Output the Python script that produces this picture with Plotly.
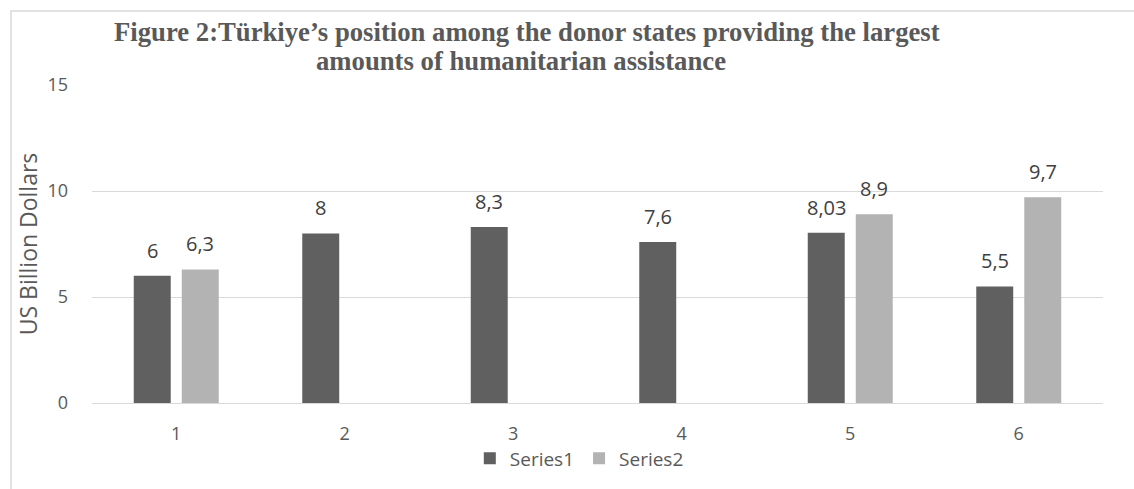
import plotly.graph_objects as go

categories = ["1", "2", "3", "4", "5", "6"]
series1 = [6, 8, 8.3, 7.6, 8.03, 5.5]
series2 = [6.3, None, None, None, 8.9, 9.7]
series_names = ["Series1", "Series2"]
title_lines = ["Figure 2:Türkiye’s position among the donor states providing the largest",
               "amounts of humanitarian assistance"]
y_title = "US Billion Dollars"
y_ticks = [0, 5, 10, 15]


def lab(v):
    return ("%g" % v).replace(".", ",")


font_sans = "Open Sans, Noto Sans, sans-serif"
colors = ["#606060", "#b3b3b3"]
fig = go.Figure()
for name, vals, col in [(series_names[0], series1, colors[0]), (series_names[1], series2, colors[1])]:
    fig.add_trace(go.Bar(
        x=categories, y=vals, name=name, marker=dict(color=col, line=dict(width=0)),
    ))

# data labels placed above each bar (x given as category index)
annotations = []
for offs, vals in [(-24, series1), (24, series2)]:
    for i, v in enumerate(vals):
        if v is None:
            continue
        annotations.append(dict(x=i, y=v, xref="x", yref="y", text=lab(v), showarrow=False,
                                xshift=offs, yshift=10, yanchor="bottom", xanchor="center",
                                font=dict(family=font_sans, size=20, color="#404040")))

title_font = dict(family="Liberation Serif, Times New Roman, serif", size=26.7, color="#595959")
annotations.append(dict(text="<b>" + title_lines[0] + "</b>", xref="paper", yref="paper",
                        x=0.430, y=1.1667, xanchor="center", yanchor="middle", showarrow=False,
                        font=title_font))
annotations.append(dict(text="<b>" + title_lines[1] + "</b>", xref="paper", yref="paper",
                        x=0.424, y=1.0755, xanchor="center", yanchor="middle", showarrow=False,
                        font=title_font))

fig.update_layout(
    width=1134, height=489,
    margin=dict(l=92, r=31, t=85, b=86),
    paper_bgcolor="white", plot_bgcolor="white",
    barmode="group", bargap=0.43, bargroupgap=0.23,
    showlegend=True,
    legend=dict(orientation="h", x=0.482, xanchor="center", y=-0.174, yanchor="middle",
                bgcolor="rgba(0,0,0,0)",
                font=dict(family=font_sans, size=19, color="#595959"),
                traceorder="normal"),
    annotations=annotations,
)
fig.update_yaxes(range=[0, 15], tickvals=y_ticks, showgrid=True, gridcolor="#d9d9d9", gridwidth=1,
                 zeroline=True, zerolinecolor="#d9d9d9", zerolinewidth=1, showline=False,
                 ticklabelstandoff=23,
                 tickfont=dict(family=font_sans, size=18, color="#595959"),
                 title=dict(text=y_title, standoff=3, font=dict(family=font_sans, size=23, color="#595959")))
fig.update_xaxes(type="category", range=[-0.5, len(categories) - 0.5],
                 showgrid=False, showline=False, zeroline=False, ticklabelstandoff=18,
                 tickfont=dict(family=font_sans, size=18, color="#595959"))

fig.add_shape(type="rect", xref="paper", yref="paper", x0=-0.0801, x1=1.04, y0=-0.3, y1=1.2327,
              line=dict(color="#d9d9d9", width=1.5), fillcolor="rgba(0,0,0,0)", layer="below")

fig.write_html("out.html", config={"displayModeBar": False},
               post_script="document.body.style.margin='0px';")
